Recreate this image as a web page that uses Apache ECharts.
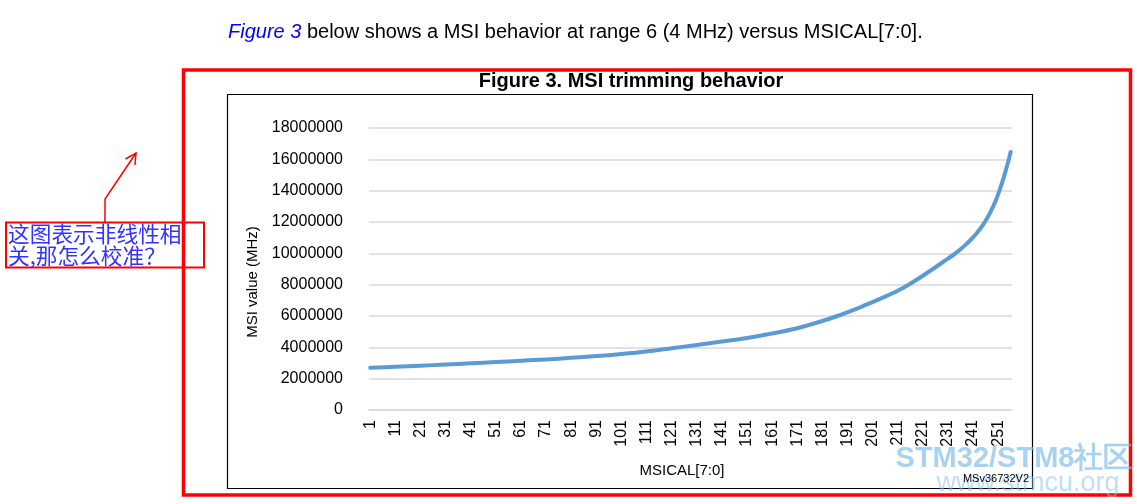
<!DOCTYPE html>
<html><head><meta charset="utf-8">
<script src="https://cdn.jsdelivr.net/npm/echarts@6/dist/echarts.min.js"></script>
<style>html,body{margin:0;padding:0;background:#fff}#c{width:1137px;height:504px}</style>
</head><body><div id="c"></div>
<script>
// MSICAL[7:0] codes 1..256 (category axis)
const categories = Array.from({length: 256}, (_, i) => String(i + 1));
const sampleCodes = [1,11,21,31,41,51,61,71,81,91,101,111,121,131,141,151,161,171,181,187,191,196,201,206,211,216,221,226,231,234,236,238,240,242,244,246,248,250,251,252,253,254,255,256];
const msiValues = [2690000,2760000,2830000,2900000,2980000,3060000,3140000,3230000,3330000,3440000,3570000,3730000,3940000,4150000,4370000,4600000,4880000,5220000,5680000,6000000,6240000,6550000,6890000,7240000,7610000,8060000,8570000,9110000,9660000,10000000,10260000,10540000,10850000,11200000,11600000,12080000,12660000,13360000,13780000,14240000,14740000,15280000,15860000,16480000];
const yMin = 0, yMax = 18000000, yStep = 2000000;

const seriesData = sampleCodes.map((c, i) => [String(c), msiValues[i]]);
const font = '"Liberation Sans", Arial, sans-serif';

const chart = echarts.init(document.getElementById('c'), null, {renderer: 'canvas'});
chart.setOption({
  backgroundColor: '#ffffff',
  animation: false,
  grid: {left: 369, right: 125, top: 128, bottom: 94, containLabel: false},
  xAxis: {
    type: 'category',
    data: categories,
    boundaryGap: true,
    axisLine: {show: true, lineStyle: {color: '#d9d9d9', width: 1.5}},
    axisTick: {show: false},
    axisLabel: {interval: 9, rotate: 90, fontSize: 16, color: '#000', fontFamily: font, margin: 10},
    splitLine: {show: false}
  },
  yAxis: {
    type: 'value',
    min: yMin, max: yMax, interval: yStep,
    axisLine: {show: false},
    axisTick: {show: false},
    axisLabel: {fontSize: 16, color: '#000', fontFamily: font, margin: 26, formatter: v => String(v)},
    splitLine: {show: true, lineStyle: {color: '#d9d9d9', width: 1.5}}
  },
  series: [{
    type: 'line',
    data: seriesData,
    smooth: 0.3,
    showSymbol: false,
    lineStyle: {color: '#5b9bd5', width: 4, cap: 'round', join: 'round'},
    z: 3
  }],
  graphic: [
    {type: 'text', left: 228, top: 22, style: {
      text: '{i|Figure 3} below shows a MSI behavior at range 6 (4 MHz) versus MSICAL[7:0].',
      font: '20px ' + font, fill: '#000',
      rich: {i: {fontStyle: 'italic', fill: '#0000ff', fontSize: 20, fontFamily: font, color: '#0000ff'}}
    }},
    {type: 'rect', shape: {x: 183.5, y: 70, width: 947, height: 425}, style: {fill: 'none', stroke: '#ff0000', lineWidth: 3.5}, z: 1},
    {type: 'rect', shape: {x: 227.5, y: 94.5, width: 805, height: 394}, style: {fill: 'none', stroke: '#000', lineWidth: 1.2}, z: 1},
    {type: 'text', x: 631, y: 81, style: {text: 'Figure 3. MSI trimming behavior', font: 'bold 20px ' + font, fill: '#000', textAlign: 'center', textVerticalAlign: 'middle'}},
    {type: 'text', x: 253, y: 282, rotation: Math.PI / 2, style: {text: 'MSI value (MHz)', font: '15px ' + font, fill: '#000', textAlign: 'center', textVerticalAlign: 'middle'}},
    {type: 'text', x: 682, y: 471, style: {text: 'MSICAL[7:0]', font: '15px ' + font, fill: '#000', textAlign: 'center', textVerticalAlign: 'middle'}},
    {type: 'text', x: 1029, y: 479, style: {text: 'MSv36732V2', font: '11px ' + font, fill: '#000', textAlign: 'right', textVerticalAlign: 'middle'}, z: 5},
    {type: 'text', x: 1014, y: 459, style: {text: 'STM32/STM8社区', font: 'bold 29px ' + font, fill: 'rgba(130,192,234,0.7)', textAlign: 'center', textVerticalAlign: 'middle'}, z: 4},
    {type: 'text', x: 1028, y: 484, style: {text: 'www.stmcu.org', font: '27px ' + font, fill: 'rgba(130,192,234,0.5)', textAlign: 'center', textVerticalAlign: 'middle'}, z: 4},
    {type: 'rect', shape: {x: 6, y: 222.5, width: 198, height: 45}, style: {fill: '#fff', stroke: '#ff0000', lineWidth: 2}},
    {type: 'text', x: 8, y: 234, style: {text: '这图表示非线性相', font: '21.7px "Noto Sans CJK SC", sans-serif', fill: '#3333ff', textVerticalAlign: 'middle'}},
    {type: 'text', x: 8, y: 256, style: {text: '关,那怎么校准？', font: '21.7px "Noto Sans CJK SC", sans-serif', fill: '#3333ff', textVerticalAlign: 'middle'}},
    {type: 'polyline', shape: {points: [[105, 222], [105, 199], [136, 153]]}, style: {stroke: '#ff0000', lineWidth: 1.5, fill: 'none'}},
    {type: 'polyline', shape: {points: [[125.5, 159], [136, 153], [135, 165]]}, style: {stroke: '#ff0000', lineWidth: 1.5, fill: 'none'}}
  ]
});
</script></body></html>
